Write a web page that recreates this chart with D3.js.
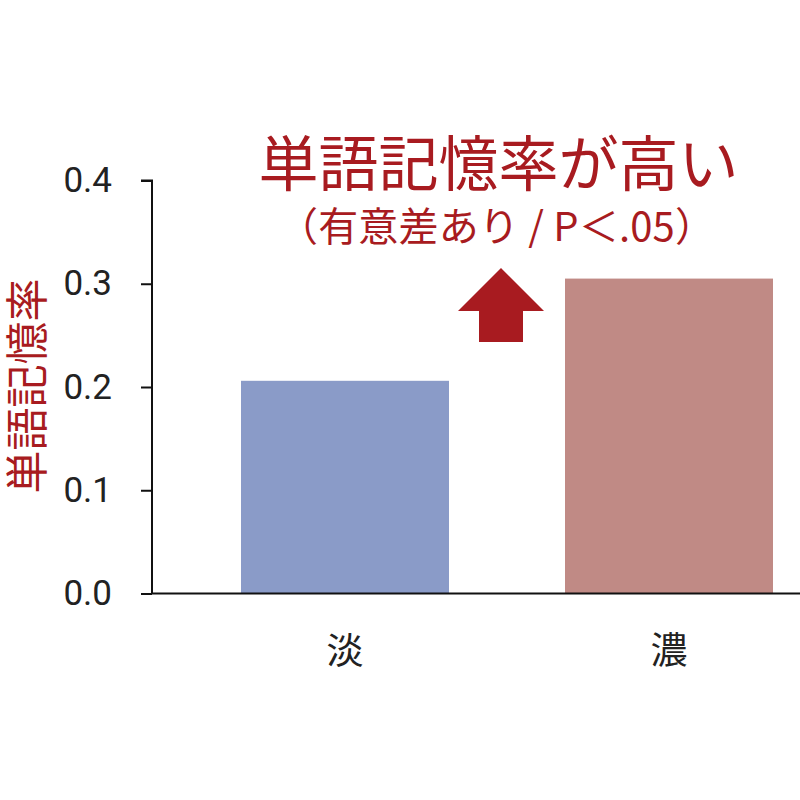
<!DOCTYPE html>
<html><head><meta charset="utf-8">
<script src="https://cdn.jsdelivr.net/npm/d3@7"></script>
<style>body{margin:0;background:#fff}svg{display:block}</style>
</head><body>
<svg id="c" width="800" height="800"></svg>
<script>
const categories = ["淡", "濃"];
const values = [0.206, 0.305];
const barColors = ["#8A9BC8", "#C08A85"];
const yTicks = [0.0, 0.1, 0.2, 0.3, 0.4];
const yLabel = "単語記憶率";
const title = "単語記憶率が高い";
const subtitle = "（有意差あり / P＜.05）";

const red = "#A81B20";
const font = "'Noto Sans CJK JP', 'Noto Sans', sans-serif";
const svg = d3.select("#c");

const y = d3.scaleLinear().domain([0, 0.4]).range([593.5, 180.5]);
const x = d3.scaleBand().domain(categories).range([183, 831]).paddingInner(0.358).paddingOuter(0.179);

// bars
svg.selectAll("rect.bar").data(categories).join("rect")
  .attr("class","bar")
  .attr("x", d => x(d))
  .attr("width", x.bandwidth())
  .attr("y", (d,i) => y(values[i]))
  .attr("height", (d,i) => y(0) - y(values[i]))
  .attr("fill", (d,i) => barColors[i]);

// y axis
const yAxis = svg.append("g").attr("transform","translate(152,0)")
  .call(d3.axisLeft(y).tickValues(yTicks).tickFormat(d3.format(".1f")).tickSize(11).tickPadding(29));
yAxis.select(".domain").attr("stroke","#111").attr("stroke-width",2).attr("d","M-11,180.5H0V593.5");
yAxis.selectAll(".tick line").attr("stroke","#111").attr("stroke-width",2);
yAxis.selectAll(".tick text").attr("font-family","Roboto, 'Noto Sans', sans-serif").attr("font-size",35).attr("fill","#222");

// x axis line
svg.append("line").attr("x1",152).attr("x2",800).attr("y1",593.5).attr("y2",593.5)
  .attr("stroke","#111").attr("stroke-width",2);

// x labels
svg.selectAll("text.xl").data(categories).join("text")
  .attr("class","xl")
  .attr("x", d => x(d) + x.bandwidth()/2)
  .attr("y", 664)
  .attr("text-anchor","middle")
  .attr("font-family",font).attr("font-size",37).attr("fill","#222")
  .text(d => d);

// y label
svg.append("text")
  .attr("transform","translate(43,386) rotate(-90)")
  .attr("text-anchor","middle")
  .attr("font-family",font).attr("font-size",43).attr("fill",red)
  .text(yLabel);

// title
svg.append("text").attr("x",498.5).attr("y",186).attr("text-anchor","middle")
  .attr("font-family",font).attr("font-size",60).attr("fill",red).text(title);
svg.append("text").attr("x",278).attr("y",241)
  .attr("textLength",437).attr("lengthAdjust","spacing")
  .attr("font-family",font).attr("font-size",40).attr("fill",red).text(subtitle);

// arrow
const ax = 501, arrowTop = 268;
svg.append("path")
  .attr("d", `M${ax},${arrowTop} L${ax+43},311 L${ax+22},311 L${ax+22},342 L${ax-22},342 L${ax-22},311 L${ax-43},311 Z`)
  .attr("fill", red);
</script>
</body></html>
